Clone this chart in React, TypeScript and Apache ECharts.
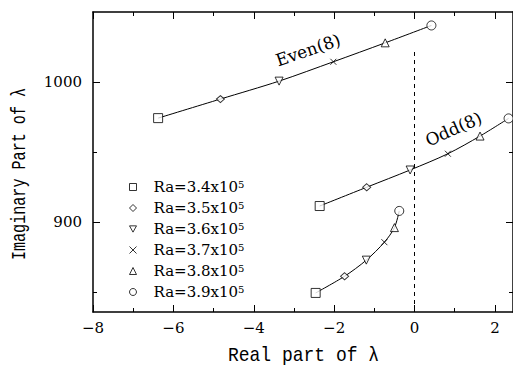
import React, { useEffect, useRef } from "react";
import * as echarts from "echarts";

const raValues = ["3.4", "3.5", "3.6", "3.7", "3.8", "3.9"];
const evenRe = [-6.38, -4.83, -3.37, -2.02, -0.73, 0.42];
const evenIm = [974.3, 987.9, 1000.7, 1014.5, 1028, 1040.4];
const oddRe = [-2.36, -1.19, -0.11, 0.83, 1.63, 2.34];
const oddIm = [911.6, 925, 937.3, 948.9, 961.5, 974.1];
const thirdRe = [-2.46, -1.74, -1.2, -0.75, -0.5, -0.38];
const thirdIm = [849.6, 861.5, 873, 885.8, 896.2, 908.1];

const xMajorTicks = [-8, -6, -4, -2, 0, 2];
const xMinorTicks = [-7, -5, -3, -1, 1];
const yMajorTicks = [900, 1000];
const yMinorTicks = [850, 950];
const xMin = -8;
const xMax = 2.45;
const yMin = 836;
const yMax = 1050;
const zeroLineTop = 1024;

const symbols = [
  { symbol: "rect", size: 9 },
  { symbol: "diamond", size: [8, 7] },
  { symbol: "path://M0,0L10,0L5,9Z", size: 8 },
  { symbol: "path://M0,0L10,10M0,10L10,0", size: 6 },
  { symbol: "triangle", size: 8 },
  { symbol: "circle", size: 9 },
];

const serif = '"DejaVu Serif", serif';
const mono = '"Liberation Mono", monospace';

export default function App() {
  const ref = useRef<HTMLDivElement>(null);
  useEffect(() => {
    if (!ref.current) return;
    const chart = echarts.init(ref.current, undefined, { renderer: "svg" });
    const branches = [
      [evenRe, evenIm],
      [oddRe, oddIm],
      [thirdRe, thirdIm],
    ];
    const lineSeries = branches.map((b, k) => ({
      type: "line",
      name: "branch" + k,
      data: b[0].map((x, i) => [x, b[1][i]]),
      showSymbol: false,
      smooth: 0.3,
      lineStyle: { color: "#000", width: 1 },
      z: 2,
      silent: true,
      ...(k === 0
        ? {
            markLine: {
              silent: true,
              symbol: "none",
              label: { show: false },
              lineStyle: { color: "#000", width: 1, type: [4, 4] },
              data: [[{ coord: [0, yMin] }, { coord: [0, zeroLineTop] }]],
            },
          }
        : {}),
    }));
    const hollow = { color: "#fff", borderColor: "#000", borderWidth: 1 };
    const scatterSeries = raValues.map((ra, i) => ({
      type: "scatter",
      name: ra,
      symbol: symbols[i].symbol,
      symbolSize: symbols[i].size,
      itemStyle: hollow,
      data: branches.map((b) => [b[0][i], b[1][i]]),
      z: 3,
    }));

    const axisLine = { show: true, onZero: false, lineStyle: { color: "#000", width: 1.5 } };
    const noLine = { show: false, onZero: false };
    const mkX = (pos: string, ticks: number[], len: number, labels: boolean, line: boolean) => ({
      type: "value",
      position: pos,
      min: xMin,
      max: xMax,
      axisLine: line ? axisLine : noLine,
      axisTick: {
        show: true,
        inside: true,
        length: len,
        customValues: ticks,
        lineStyle: { color: "#000", width: 1 },
      },
      axisLabel: labels
        ? {
            show: true,
            customValues: ticks,
            margin: 8,
            color: "#000",
            fontFamily: serif,
            fontSize: 15,
            formatter: (v: number) => (v < 0 ? "\u2212" + Math.abs(v) : String(v)),
          }
        : { show: false },
      splitLine: { show: false },
    });
    const mkY = (pos: string, ticks: number[], len: number, labels: boolean, line: boolean) => ({
      type: "value",
      position: pos,
      min: yMin,
      max: yMax,
      axisLine: line ? axisLine : noLine,
      axisTick: {
        show: true,
        inside: true,
        length: len,
        customValues: ticks,
        lineStyle: { color: "#000", width: 1 },
      },
      axisLabel: labels
        ? {
            show: true,
            customValues: ticks,
            margin: 11,
            color: "#000",
            fontFamily: serif,
            fontSize: 15,
            formatter: (v: number) => String(v),
          }
        : { show: false },
      splitLine: { show: false },
    });

    const centered = {
      fill: "#000",
      align: "center",
      verticalAlign: "middle",
      textAlign: "center",
      textVerticalAlign: "middle",
    };

    chart.setOption({
      animation: false,
      backgroundColor: "#fff",
      grid: { left: 93, top: 12, right: 0, bottom: 55 },
      xAxis: [
        mkX("bottom", xMajorTicks, 7, true, true),
        mkX("bottom", xMinorTicks, 4, false, false),
        mkX("top", xMajorTicks, 7, false, true),
        mkX("top", xMinorTicks, 4, false, false),
      ],
      yAxis: [
        mkY("left", yMajorTicks, 7, true, true),
        mkY("left", yMinorTicks, 4, false, false),
        mkY("right", yMajorTicks, 7, false, true),
        mkY("right", yMinorTicks, 4, false, false),
      ],
      legend: {
        orient: "vertical",
        left: 129,
        top: 179,
        padding: 0,
        itemWidth: 7,
        itemHeight: 7,
        itemGap: 5,
        data: raValues.map((name) => ({ name, itemStyle: hollow })),
        itemStyle: hollow,
        selectedMode: false,
        formatter: (name: string) => `Ra=${name}x10{sup|5}`,
        textStyle: {
          color: "#000",
          fontFamily: serif,
          fontSize: 15,
          lineHeight: 16,
          padding: [0, 0, 0, 12],
          rich: {
            sup: {
              color: "#000",
              fontFamily: serif,
              fontSize: 10,
              lineHeight: 10,
              padding: [0, 0, 6, 0],
              verticalAlign: "top",
            },
          },
        },
      },
      graphic: [
        {
          type: "text",
          x: 303.5,
          y: 356,
          scaleX: 0.9,
          style: { ...centered, text: "Real part of \u03bb", font: `20px ${mono}` },
        },
        {
          type: "text",
          x: 19,
          y: 174,
          rotation: Math.PI / 2,
          scaleX: 0.72,
          style: { ...centered, text: "Imaginary Part of \u03bb", font: `21px ${mono}` },
        },
        {
          type: "text",
          x: 308,
          y: 50,
          rotation: (19 * Math.PI) / 180,
          style: { ...centered, text: "Even(8)", font: `17px ${serif}` },
        },
        {
          type: "text",
          x: 453.5,
          y: 129,
          rotation: (24 * Math.PI) / 180,
          style: { ...centered, text: "Odd(8)", font: `17px ${serif}` },
        },
      ],
      series: [...lineSeries, ...scatterSeries],
    });
    return () => chart.dispose();
  }, []);
  return (
    <div
      ref={ref}
      style={{ position: "absolute", left: 0, top: 0, width: 513, height: 367, background: "#fff" }}
    />
  );
}
